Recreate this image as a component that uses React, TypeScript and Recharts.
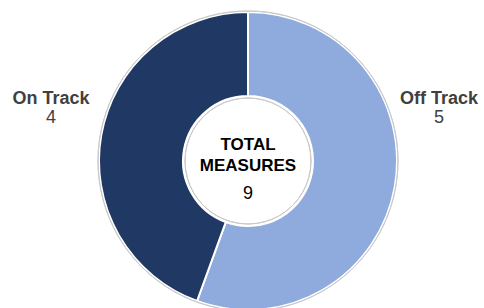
import React from "react";
import { PieChart, Pie, Cell, Label } from "recharts";

const statuses = ["Off Track", "On Track"];
const counts = [5, 4];
const colors = ["#8FAADC", "#1F3864"];
const centerTitle = ["TOTAL", "MEASURES"];

const data = statuses.map((name, i) => ({ name, value: counts[i] }));
const total = counts.reduce((a, b) => a + b, 0);
const ring = [{ name: "ring", value: 1 }];

const CX = 248;
const CY = 161;
const RAD = Math.PI / 180;

const renderLabel = (props: any) => {
  const { cx, cy, midAngle, name, value } = props;
  const right = Math.cos(-midAngle * RAD) >= 0;
  const x = right ? cx + 191 : cx - 197;
  return (
    <g>
      <text x={x} y={cy - 63} textAnchor="middle" dominantBaseline="central"
        fill="#404040" fontSize={18} fontWeight="bold">{name}</text>
      <text x={x} y={cy - 44} textAnchor="middle" dominantBaseline="central"
        fill="#404040" fontSize={18}>{value}</text>
    </g>
  );
};

const CenterText = () => (
  <g>
    <text x={CX} y={CY - 17} textAnchor="middle" dominantBaseline="central"
      fill="#000" fontSize={17} fontWeight="bold">{centerTitle[0]}</text>
    <text x={CX} y={CY + 4} textAnchor="middle" dominantBaseline="central"
      fill="#000" fontSize={17} fontWeight="bold">{centerTitle[1]}</text>
    <text x={CX} y={CY + 32} textAnchor="middle" dominantBaseline="central"
      fill="#000" fontSize={18}>{total}</text>
  </g>
);

export default function App() {
  return (
    <div style={{ position: "absolute", left: 0, top: 0, fontFamily: "Arial, 'Liberation Sans', sans-serif" }}>
      <PieChart width={484} height={308} margin={{ top: 0, right: 0, bottom: 0, left: 0 }}>
        <Pie
          data={data}
          dataKey="value"
          nameKey="name"
          cx={CX}
          cy={CY}
          innerRadius={65}
          outerRadius={149}
          startAngle={90}
          endAngle={-270}
          stroke="#fff"
          strokeWidth={2}
          label={renderLabel}
          labelLine={false}
          isAnimationActive={false}
        >
          {data.map((d, i) => (
            <Cell key={d.name} fill={colors[i]} />
          ))}
          <Label position="center" content={CenterText} />
        </Pie>
        <Pie
          data={ring}
          dataKey="value"
          cx={CX}
          cy={CY}
          innerRadius={150}
          outerRadius={150}
          startAngle={90}
          endAngle={-270}
          fill="none"
          stroke="#c9c9c9"
          strokeWidth={1}
          isAnimationActive={false}
        />
        <Pie
          data={ring}
          dataKey="value"
          cx={CX}
          cy={CY}
          innerRadius={63}
          outerRadius={63}
          startAngle={90}
          endAngle={-270}
          fill="none"
          stroke="#c9c9c9"
          strokeWidth={1}
          isAnimationActive={false}
        />
      </PieChart>
    </div>
  );
}
